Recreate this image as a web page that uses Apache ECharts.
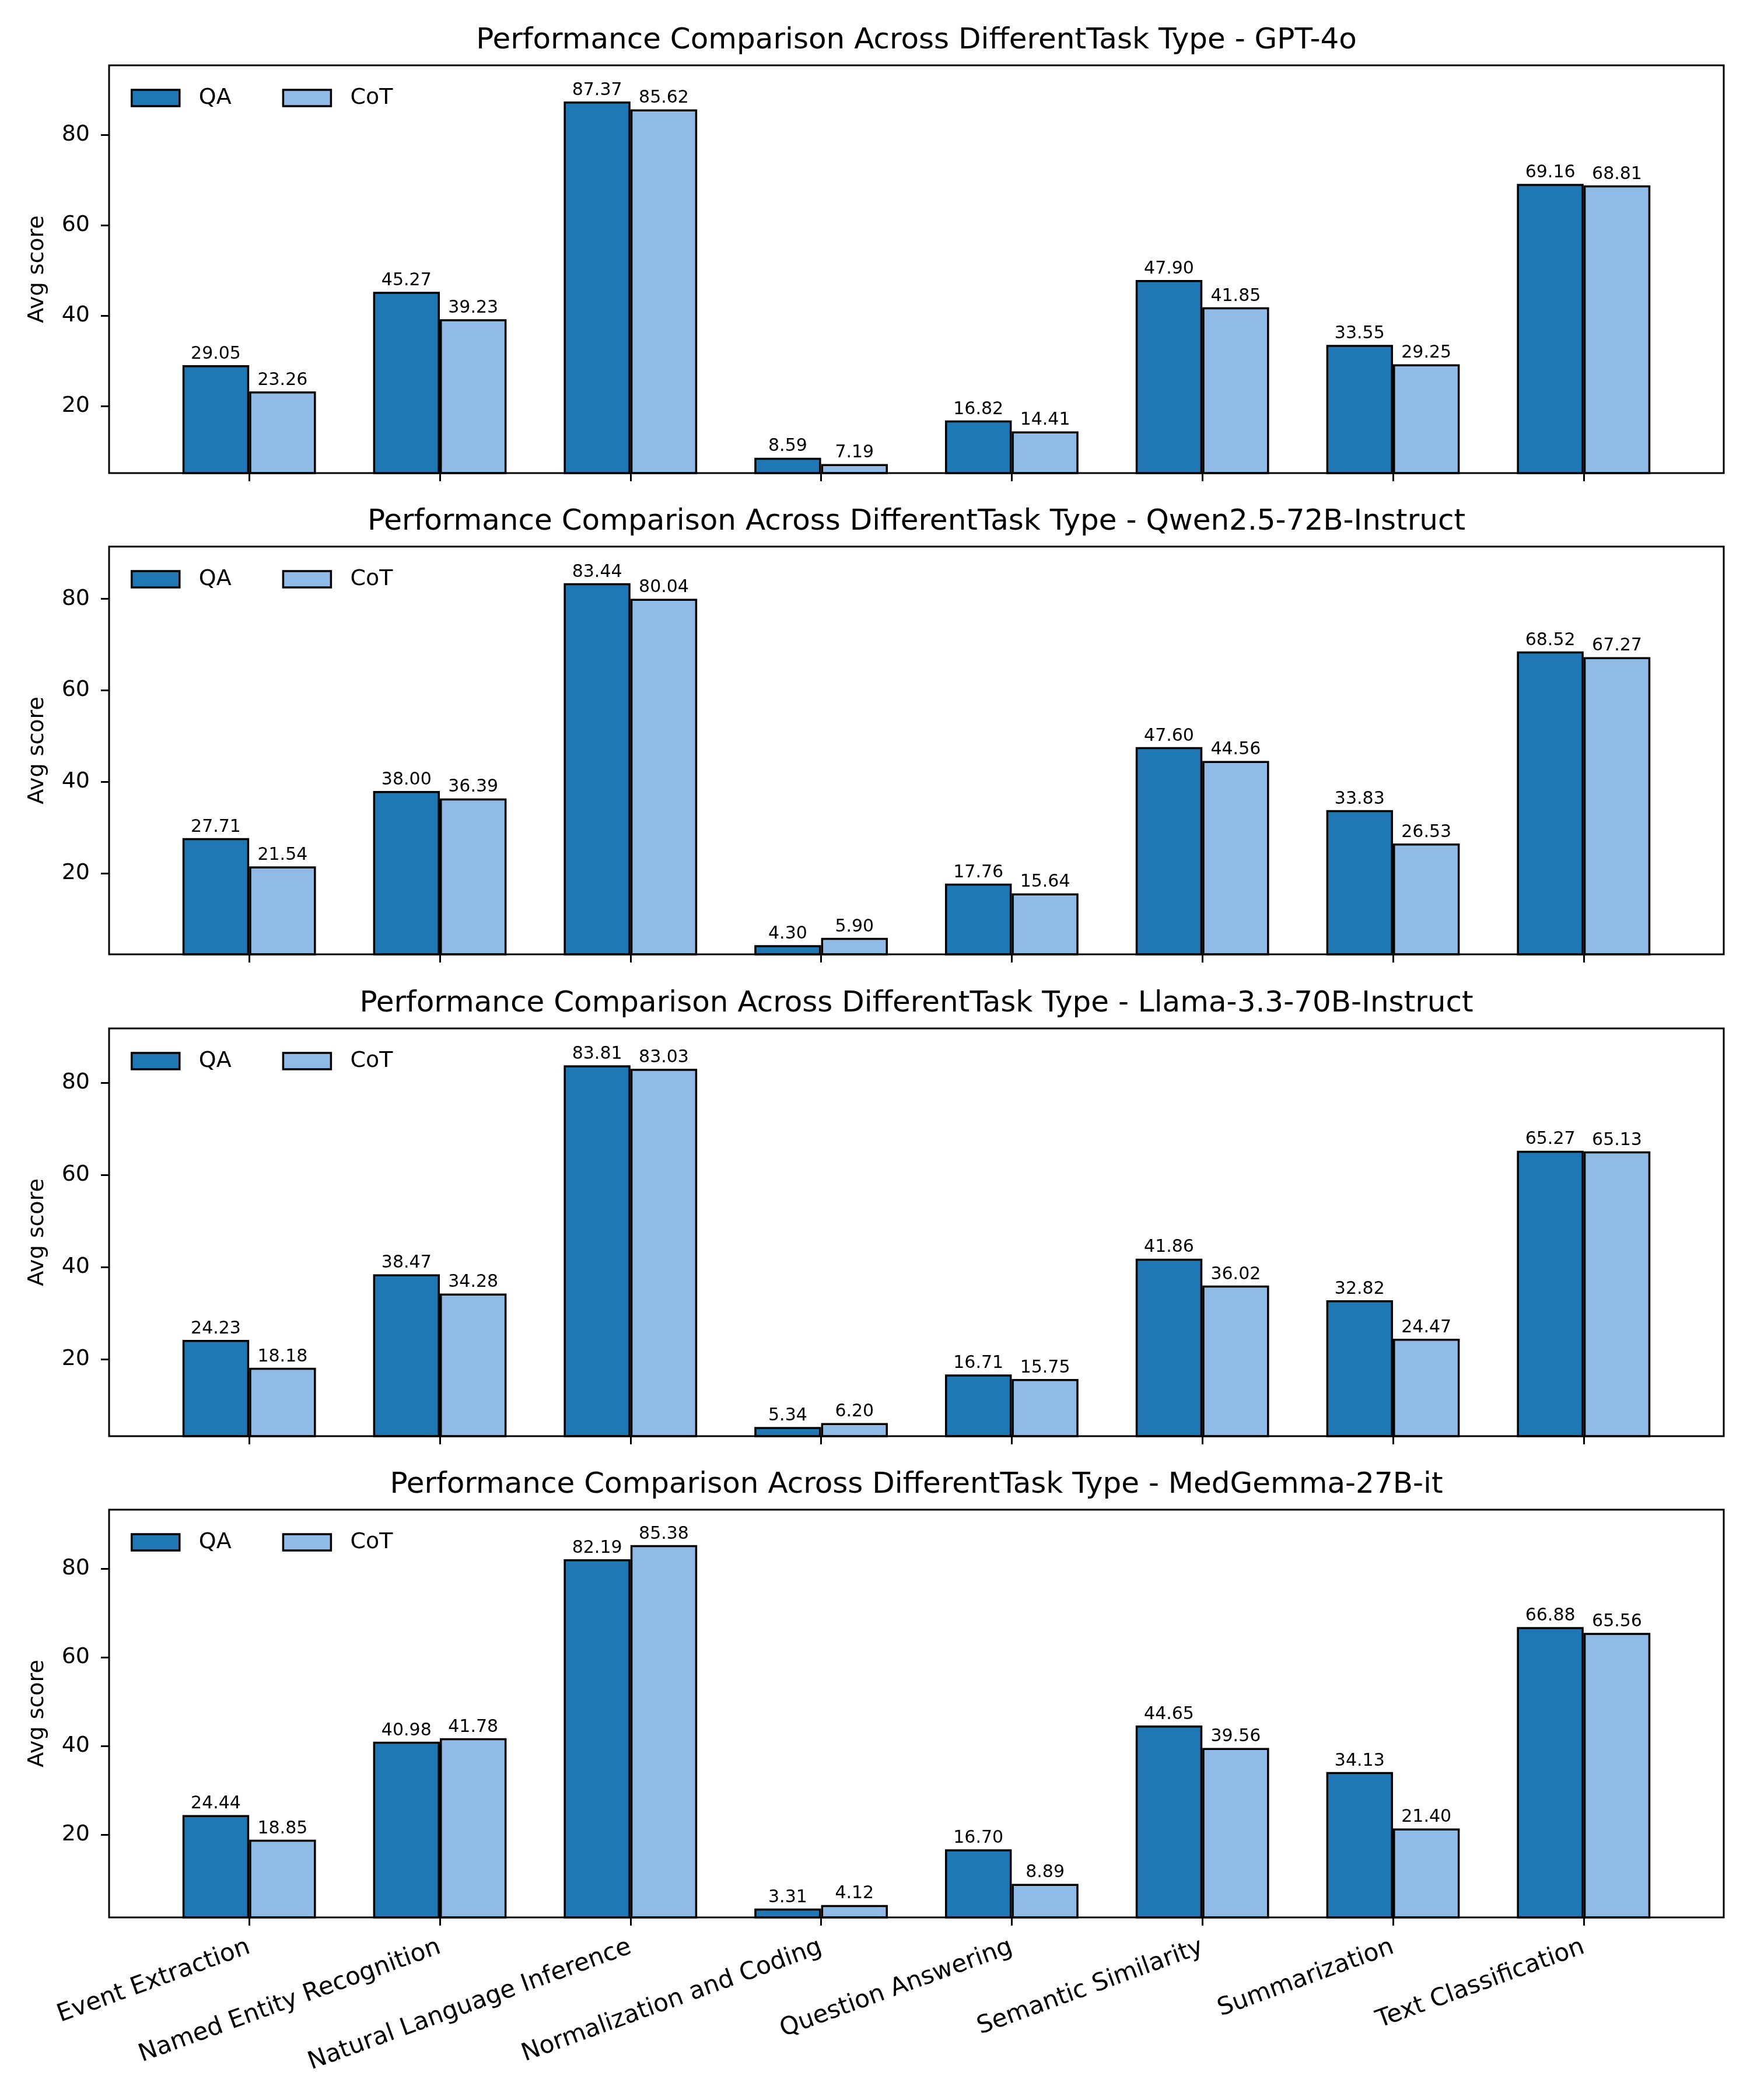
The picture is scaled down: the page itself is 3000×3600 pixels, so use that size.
<!DOCTYPE html>
<html>
<head>
<meta charset="utf-8">
<script src="https://cdn.jsdelivr.net/npm/echarts@6/dist/echarts.min.js"></script>
<style>
html, body { margin: 0; padding: 0; background: #fff; }
#chart { width: 3000px; height: 3600px; }
</style>
</head>
<body>
<div id="chart"></div>
<script>
const categories = ['Event Extraction', 'Named Entity Recognition', 'Natural Language Inference',
  'Normalization and Coding', 'Question Answering', 'Semantic Similarity', 'Summarization', 'Text Classification'];
const models = ['GPT-4o', 'Qwen2.5-72B-Instruct', 'Llama-3.3-70B-Instruct', 'MedGemma-27B-it'];

const qaGpt4o   = [29.05, 45.27, 87.37, 8.59, 16.82, 47.90, 33.55, 69.16];
const cotGpt4o  = [23.26, 39.23, 85.62, 7.19, 14.41, 41.85, 29.25, 68.81];
const qaQwen    = [27.71, 38.00, 83.44, 4.30, 17.76, 47.60, 33.83, 68.52];
const cotQwen   = [21.54, 36.39, 80.04, 5.90, 15.64, 44.56, 26.53, 67.27];
const qaLlama   = [24.23, 38.47, 83.81, 5.34, 16.71, 41.86, 32.82, 65.27];
const cotLlama  = [18.18, 34.28, 83.03, 6.20, 15.75, 36.02, 24.47, 65.13];
const qaMedGemma  = [24.44, 40.98, 82.19, 3.31, 16.70, 44.65, 34.13, 66.88];
const cotMedGemma = [18.85, 41.78, 85.38, 4.12, 8.89, 39.56, 21.40, 65.56];

const yTicks = [20, 40, 60, 80];
const seriesNames = ['QA', 'CoT'];

const panels = [
  [qaGpt4o, cotGpt4o],
  [qaQwen, cotQwen],
  [qaLlama, cotLlama],
  [qaMedGemma, cotMedGemma]
];

const FONT = 'DejaVu Sans';
const colors = ['#1f77b4', '#90bbe6'];
const gridTops = [112, 937, 1763, 2588];
const gridLeft = 187, gridWidth = 2768, gridHeight = 699;
const xIdx = categories.map((_, i) => i);

const option = {
  animation: false,
  backgroundColor: '#fff',
  textStyle: { fontFamily: FONT, color: '#000' },
  title: [], legend: [], grid: [], xAxis: [], yAxis: [], series: []
};

panels.forEach((pair, p) => {
  const all = pair[0].concat(pair[1]);
  const yMin = Math.min(...all) - 2;
  const yMax = Math.max(...all) + 8;
  option.title.push({
    text: 'Performance Comparison Across DifferentTask Type - ' + models[p],
    left: gridLeft + gridWidth / 2, textAlign: 'center',
    top: gridTops[p] - 67, padding: 0,
    textStyle: { fontSize: 50, fontWeight: 'normal', color: '#000', fontFamily: FONT }
  });
  option.legend.push({
    data: seriesNames, left: 224, top: gridTops[p] + 37, padding: 0,
    orient: 'horizontal', icon: 'rect', itemWidth: 82, itemHeight: 28, itemGap: 87,
    selectedMode: false,
    itemStyle: { borderColor: '#000', borderWidth: 3.5 },
    textStyle: { fontSize: 38, color: '#000', fontFamily: FONT, padding: [0, 0, 0, 28], lineHeight: 38 }
  });
  option.grid.push({
    left: gridLeft, top: gridTops[p], width: gridWidth, height: gridHeight,
    show: true, borderColor: '#000', borderWidth: 3, backgroundColor: 'transparent', z: 5
  });
  option.xAxis.push({
    type: 'value', gridIndex: p, min: -0.735, max: 7.735,
    axisLine: { show: false, onZero: false }, splitLine: { show: false },
    axisTick: { show: true, customValues: xIdx, length: 14, lineStyle: { width: 3, color: '#000' } },
    axisLabel: {
      show: p === panels.length - 1, customValues: xIdx,
      formatter: v => categories[Math.round(v)],
      rotate: 20, fontSize: 42, margin: 50, color: '#000', fontFamily: FONT
    }
  });
  option.yAxis.push({
    type: 'value', gridIndex: p, min: yMin, max: yMax,
    axisLine: { show: false, onZero: false }, splitLine: { show: false },
    axisTick: { show: true, customValues: yTicks, length: 14, lineStyle: { width: 3, color: '#000' } },
    axisLabel: { customValues: yTicks, fontSize: 38, margin: 33, color: '#000', fontFamily: FONT },
    name: 'Avg score', nameLocation: 'middle', nameGap: 104,
    nameTextStyle: { fontSize: 38, color: '#000', fontFamily: FONT }
  });
  pair.forEach((vals, s) => {
    option.series.push({
      type: 'bar', name: seriesNames[s], xAxisIndex: p, yAxisIndex: p,
      data: vals.map((v, i) => [i, v]),
      barWidth: '35%', barGap: '0%',
      itemStyle: { color: colors[s], borderColor: '#000', borderWidth: 3.5 },
      label: {
        show: true, position: 'top', distance: 4, fontSize: 30, color: '#000', fontFamily: FONT,
        formatter: prm => prm.value[1].toFixed(2)
      },
      emphasis: { disabled: true }
    });
  });
});

const chart = echarts.init(document.getElementById('chart'), null, { renderer: 'canvas' });
chart.setOption(option);
</script>
</body>
</html>
